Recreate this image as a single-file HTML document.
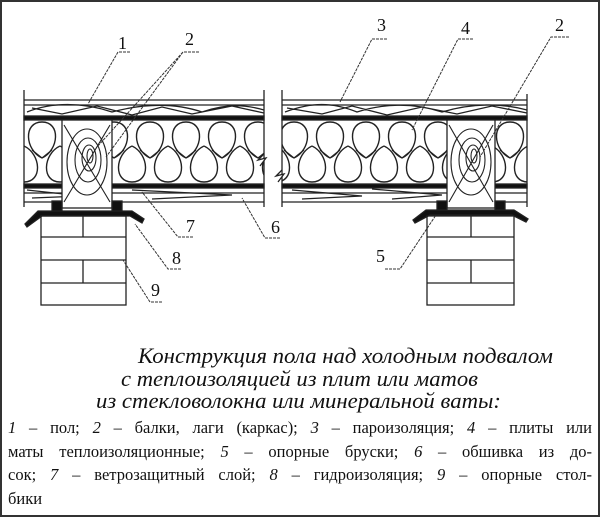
<!DOCTYPE html>
<html><head><meta charset="utf-8"><style>
html,body{margin:0;padding:0;background:#fff}
#w{position:relative;width:596px;height:513px;border:2px solid #333;overflow:hidden;font-family:"Liberation Serif",serif;color:#111}
.leg{position:absolute;left:6px;width:584px;font-size:16.5px;line-height:23.5px;text-align:justify;text-align-last:justify}
</style></head><body><div id="w">
<svg width="596" height="420" style="position:absolute;left:0;top:0">
<defs>
<pattern id="ins" width="36" height="64" patternUnits="userSpaceOnUse" x="22" y="118">
<path d="M18,38 C1,30 -1,2 18,2 C37,2 35,30 18,38" fill="none" stroke="#222" stroke-width="1.4"/>
<path d="M0,26 C-17,34 -19,62 0,62 C19,62 17,34 0,26" fill="none" stroke="#222" stroke-width="1.4"/>
<path d="M36,26 C19,34 17,62 36,62 C55,62 53,34 36,26" fill="none" stroke="#222" stroke-width="1.4"/>
<path d="M18,38 L28,30 M18,38 L8,30" fill="none" stroke="#222" stroke-width="1.2"/>
</pattern>
</defs>
<g stroke="#222" fill="none" stroke-width="1.3">
<rect x="22" y="118" width="240" height="64" fill="url(#ins)" stroke="none"/>
<rect x="280" y="118" width="245" height="64" fill="url(#ins)" stroke="none"/>
<line x1="22" y1="98" x2="262" y2="98"/><line x1="280" y1="98" x2="525" y2="98"/>
<line x1="22" y1="103" x2="262" y2="103"/><line x1="280" y1="103" x2="525" y2="103"/>
<rect x="22" y="114" width="240" height="4" fill="#111"/><rect x="280" y="114" width="245" height="4" fill="#111"/>
<path d="M25,110 C50,100 80,100 110,110 C140,102 170,100 200,110 C225,101 245,103 262,108 M30,106 L60,112 L95,104 L130,113 L160,105 L190,112 L230,104 L262,111"/>
<path d="M283,110 C310,100 330,100 355,110 C380,102 410,100 440,110 C470,101 500,101 525,108 M285,106 L320,112 L350,104 L385,113 L420,105 L455,112 L490,104 L525,111"/>
<rect x="22" y="182" width="240" height="4" fill="#111"/><rect x="280" y="182" width="245" height="4" fill="#111"/>
<line x1="22" y1="191" x2="262" y2="191"/><line x1="280" y1="191" x2="525" y2="191"/>
<line x1="22" y1="200" x2="262" y2="200"/><line x1="280" y1="200" x2="525" y2="200"/>
<path d="M25,188 L80,194 L30,196 M130,188 L230,193 L150,197 M290,188 L360,194 L300,197 M370,187 L440,193 L390,197"/>
<line x1="22" y1="88" x2="22" y2="205"/><line x1="525" y1="92" x2="525" y2="205"/>
<line x1="262" y1="88" x2="262" y2="205"/><line x1="280" y1="88" x2="280" y2="205"/>
<path d="M262,152 L256,158 L264,156 L258,164" fill="#fff"/><path d="M280,168 L274,174 L282,172 L276,180" fill="#fff"/>
<rect x="60" y="118" width="50" height="88" fill="#fff"/>
<rect x="445" y="118" width="48" height="88" fill="#fff"/>
<g stroke-width="1.1">
<ellipse cx="85" cy="160" rx="20" ry="33"/><ellipse cx="86" cy="158" rx="13" ry="22"/><ellipse cx="87" cy="156" rx="7" ry="13"/><ellipse cx="88" cy="154" rx="3" ry="7"/>
<path d="M62,123 L108,200 M108,123 L62,200"/>
<ellipse cx="469" cy="160" rx="20" ry="33"/><ellipse cx="470" cy="158" rx="13" ry="22"/><ellipse cx="471" cy="156" rx="7" ry="13"/><ellipse cx="472" cy="154" rx="3" ry="7"/>
<path d="M447,123 L491,200 M491,123 L447,200"/>
</g>
<rect x="50" y="199" width="10" height="10" fill="#111"/><rect x="110" y="199" width="10" height="10" fill="#111"/>
<rect x="435" y="199" width="10" height="10" fill="#111"/><rect x="493" y="199" width="10" height="10" fill="#111"/>
<path d="M23,222 L36,209 L130,209 L142,217 L140,221 L128,214 L40,214 L25,225 Z" fill="#111"/>
<path d="M411,218 L424,208 L512,208 L526,217 L524,220 L510,213 L428,213 L413,221 Z" fill="#111"/>
<rect x="39" y="214" width="85" height="89"/><line x1="39" y1="235" x2="124" y2="235"/><line x1="39" y1="258" x2="124" y2="258"/><line x1="39" y1="281" x2="124" y2="281"/>
<line x1="81" y1="214" x2="81" y2="235"/><line x1="81" y1="258" x2="81" y2="281"/>
<rect x="425" y="214" width="87" height="89"/><line x1="425" y1="235" x2="512" y2="235"/><line x1="425" y1="258" x2="512" y2="258"/><line x1="425" y1="281" x2="512" y2="281"/>
<line x1="469" y1="214" x2="469" y2="235"/><line x1="469" y1="258" x2="469" y2="281"/>
</g>
<g stroke="#333" fill="none" stroke-width="1" stroke-dasharray="3,1">
<path d="M128,50 L116,50 L86,102"/>
<path d="M197,50 L181,50 L95,145 M181,50 L104,155"/>
<path d="M385,37 L370,37 L338,100"/>
<path d="M471,37 L456,37 L410,128"/>
<path d="M567,35 L549,35 L478,155"/>
<path d="M191,235 L176,235 L140,190"/>
<path d="M278,236 L263,236 L240,196"/>
<path d="M179,267 L166,267 L133,222"/>
<path d="M160,300 L148,300 L121,258"/>
<path d="M383,267 L398,267 L434,213"/>
</g>
<g font-family="Liberation Serif" font-size="18" fill="#111">
<text x="116" y="47">1</text><text x="183" y="43">2</text><text x="375" y="29">3</text><text x="459" y="32">4</text><text x="553" y="29">2</text>
<text x="184" y="230">7</text><text x="269" y="231">6</text><text x="170" y="262">8</text><text x="149" y="294">9</text><text x="374" y="260">5</text>
</g>
<g font-family="Liberation Serif" font-style="italic" font-size="22.5" fill="#111">
<text x="136" y="361" textLength="415" lengthAdjust="spacingAndGlyphs">Конструкция пола над холодным подвалом</text>
<text x="119" y="384" textLength="357" lengthAdjust="spacingAndGlyphs">с теплоизоляцией из плит или матов</text>
<text x="94" y="406" textLength="405" lengthAdjust="spacingAndGlyphs">из стекловолокна или минеральной ваты:</text>
</g>
</svg>
<div class="leg" style="top:414px"><i>1</i> – пол; <i>2</i> – балки, лаги (каркас); <i>3</i> – пароизоляция; <i>4</i> – плиты или</div>
<div class="leg" style="top:437.5px">маты теплоизоляционные; <i>5</i> – опорные бруски; <i>6</i> – обшивка из до-</div>
<div class="leg" style="top:461px">сок; <i>7</i> – ветрозащитный слой; <i>8</i> – гидроизоляция; <i>9</i> – опорные стол-</div>
<div class="leg" style="top:484.5px;text-align-last:left">бики</div>
</div></body></html>
